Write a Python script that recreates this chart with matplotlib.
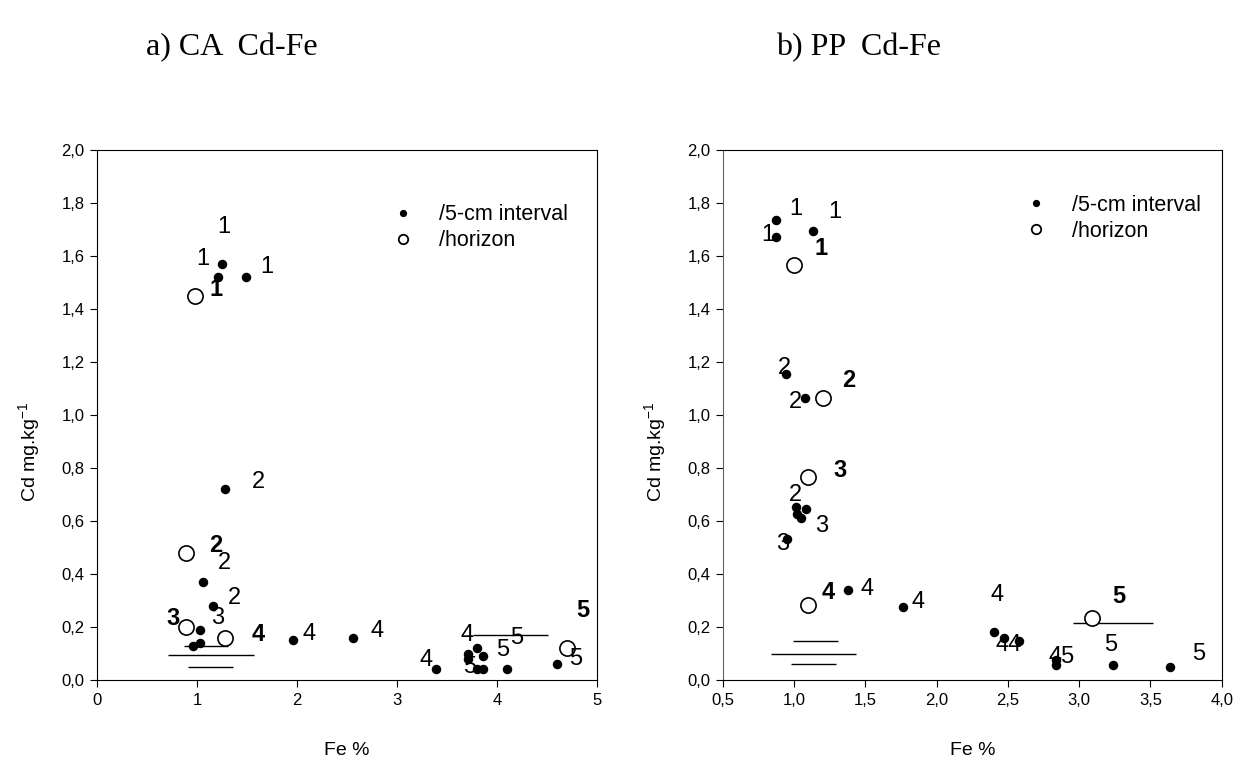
import matplotlib
matplotlib.use("Agg")
import matplotlib.pyplot as plt
from matplotlib.lines import Line2D

plt.rcParams['font.family'] = ['Liberation Sans', 'DejaVu Sans']
plt.rcParams['mathtext.default'] = 'regular'

# ---- a) CA  Cd-Fe ----
ca_int_fe = [1.25, 1.21, 1.49, 1.28, 1.06, 1.16, 1.03, 0.96, 1.03, 1.96, 2.56,
             3.39, 3.80, 3.71, 3.71, 3.86, 3.80, 3.86, 4.10, 4.60]
ca_int_cd = [1.57, 1.52, 1.52, 0.72, 0.37, 0.28, 0.19, 0.13, 0.14, 0.15, 0.16,
             0.04, 0.12, 0.10, 0.08, 0.09, 0.04, 0.04, 0.04, 0.06]
ca_hor_fe = [0.98, 0.89, 0.89, 1.28, 4.70]
ca_hor_cd = [1.45, 0.48, 0.20, 0.16, 0.12]
ca_bar_cd = [0.130, 0.094, 0.048, 0.169]
ca_bar_fe0 = [0.87, 0.71, 0.91, 3.76]
ca_bar_fe1 = [1.31, 1.57, 1.36, 4.51]
ca_lab_fe = [1.27, 1.06, 1.70, 1.19, 1.61, 1.19, 1.27, 1.37, 0.76, 1.21,
             1.61, 2.12, 2.80, 3.29, 3.70, 3.73, 4.06, 4.20, 4.79, 4.86]
ca_lab_cd = [1.71, 1.59, 1.557, 1.474, 0.748, 0.509, 0.44, 0.308, 0.233, 0.233,
             0.170, 0.172, 0.186, 0.075, 0.170, 0.05, 0.113, 0.157, 0.078, 0.264]
ca_lab_txt = ['1', '1', '1', '1', '2', '2', '2', '2', '3', '3',
              '4', '4', '4', '4', '4', '5', '5', '5', '5', '5']
ca_lab_bold = [0, 0, 0, 1, 0, 1, 0, 0, 1, 0,
               1, 0, 0, 0, 0, 0, 0, 0, 0, 1]
ca_xticks = [0, 1, 2, 3, 4, 5]
ca_xlabels = ['0', '1', '2', '3', '4', '5']

# ---- b) PP  Cd-Fe ----
pp_int_fe = [0.87, 0.87, 1.13, 0.94, 1.075, 1.01, 1.08, 1.02, 1.05, 0.95,
             1.375, 1.76, 2.40, 2.47, 2.58, 2.84, 2.84, 3.24, 3.64]
pp_int_cd = [1.735, 1.672, 1.695, 1.153, 1.063, 0.652, 0.646, 0.625, 0.61, 0.531,
             0.341, 0.277, 0.182, 0.157, 0.147, 0.075, 0.057, 0.057, 0.05]
pp_hor_fe = [1.00, 1.20, 1.10, 1.10, 3.09]
pp_hor_cd = [1.565, 1.065, 0.765, 0.282, 0.233]
pp_bar_cd = [0.146, 0.100, 0.060, 0.214]
pp_bar_fe0 = [0.99, 0.835, 0.976, 2.96]
pp_bar_fe1 = [1.31, 1.436, 1.295, 3.52]
pp_lab_fe = [1.01, 1.285, 0.814, 1.19, 0.93, 1.01, 1.38, 1.01, 1.19, 0.92,
             1.32, 1.24, 1.51, 1.872, 2.426, 2.505, 2.879, 3.279, 3.221, 3.837]
pp_lab_cd = [1.778, 1.765, 1.678, 1.628, 1.176, 1.048, 1.132, 0.70, 0.581, 0.514,
             0.79, 0.33, 0.343, 0.296, 0.321, 0.132, 0.088, 0.314, 0.132, 0.10]
pp_lab_txt = ['1', '1', '1', '1', '2', '2', '2', '2', '3', '3',
              '3', '4', '4', '4', '4', '44', '45', '5', '5', '5']
pp_lab_bold = [0, 0, 0, 1, 0, 0, 1, 0, 0, 0,
               1, 1, 0, 0, 0, 0, 0, 1, 0, 0]
pp_xticks = [0.5, 1.0, 1.5, 2.0, 2.5, 3.0, 3.5, 4.0]
pp_xlabels = ['0,5', '1,0', '1,5', '2,0', '2,5', '3,0', '3,5', '4,0']

yticks = [0.0, 0.2, 0.4, 0.6, 0.8, 1.0, 1.2, 1.4, 1.6, 1.8, 2.0]
ylabels = [('%.1f' % v).replace('.', ',') for v in yticks]


def draw_panel(ax, int_fe, int_cd, hor_fe, hor_cd, bar_cd, bar_fe0, bar_fe1,
               lab_fe, lab_cd, lab_txt, lab_bold, xlim, xticks, xlabels, leg_pos):
    ax.scatter(int_fe, int_cd, s=34, c='black', zorder=3)
    ax.scatter(hor_fe, hor_cd, s=120, facecolors='white', edgecolors='black',
               linewidths=1.2, zorder=3)
    ax.hlines(bar_cd, bar_fe0, bar_fe1, colors='black', linewidth=1.0, zorder=2)
    for x, y, t, b in zip(lab_fe, lab_cd, lab_txt, lab_bold):
        ax.text(x, y, t, fontsize=17, ha='center', va='center',
                fontweight='bold' if b else 'normal', zorder=4)

    ax.set_xlim(*xlim)
    ax.set_ylim(0, 2.0)
    ax.set_xticks(xticks)
    ax.set_xticklabels(xlabels)
    ax.set_yticks(yticks)
    ax.set_yticklabels(ylabels)
    ax.tick_params(direction='out', length=5, width=0.8, labelsize=12, pad=4)
    ax.set_xlabel('Fe %', fontsize=14, labelpad=25)
    ax.set_ylabel('Cd mg.kg$^{-1}$', fontsize=14)
    ax.yaxis.set_label_coords(-0.11, 0.43)

    handles = [Line2D([], [], marker='o', ls='none', color='black', ms=4.2),
               Line2D([], [], marker='o', ls='none', mfc='white', mec='black',
                      mew=1.3, ms=6.8)]
    ax.legend(handles, ['/5-cm interval', '/horizon'], loc='upper left',
              bbox_to_anchor=leg_pos, frameon=False, fontsize=15.5,
              handletextpad=0.67, labelspacing=0.22, borderpad=0.4)


fig = plt.figure(figsize=(12.53, 7.62), dpi=100)
ax1 = fig.add_axes([0.0774, 0.1076, 0.399, 0.6955])
ax2 = fig.add_axes([0.577, 0.1076, 0.398, 0.6955])

draw_panel(ax1, ca_int_fe, ca_int_cd, ca_hor_fe, ca_hor_cd, ca_bar_cd, ca_bar_fe0,
           ca_bar_fe1, ca_lab_fe, ca_lab_cd, ca_lab_txt, ca_lab_bold,
           (0, 5), ca_xticks, ca_xlabels, (0.531, 0.934))
draw_panel(ax2, pp_int_fe, pp_int_cd, pp_hor_fe, pp_hor_cd, pp_bar_cd, pp_bar_fe0,
           pp_bar_fe1, pp_lab_fe, pp_lab_cd, pp_lab_txt, pp_lab_bold,
           (0.5, 4.0), pp_xticks, pp_xlabels, (0.545, 0.952))
ax2.spines['left'].set_color('#606060')

fig.text(0.185, 0.938, 'a) CA  Cd-Fe', fontsize=23, family='Liberation Serif',
         ha='center', va='center')
fig.text(0.685, 0.938, 'b) PP  Cd-Fe', fontsize=23, family='Liberation Serif',
         ha='center', va='center')

fig.savefig('out.png', dpi=100)
